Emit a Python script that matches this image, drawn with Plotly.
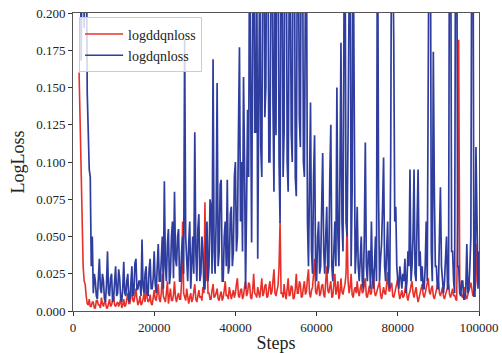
import plotly.graph_objects as go

steps = list(range(1500, 100001, 250))

logddqnloss = [
    0.16,0.12,0.083,0.05,0.03,0.02,0.018,0.01,0.005,0.004,0.008,0.003,0.003,0.006,0.006,0.002,0.002,0.007,0.007,0.004,
    0.004,0.002,0.009,0.005,0.003,0.006,0.006,0.002,0.002,0.005,0.008,0.003,0.004,0.007,0.01,0.004,0.003,0.005,0.006,0.003,
    0.005,0.008,0.002,0.004,0.008,0.003,0.004,0.01,0.012,0.005,0.005,0.009,0.02,0.007,0.006,0.01,0.015,0.008,0.004,0.006,
    0.01,0.004,0.005,0.008,0.012,0.006,0.02,0.009,0.006,0.007,0.011,0.005,0.004,0.009,0.014,0.008,0.007,0.012,0.018,0.008,
    0.006,0.012,0.025,0.01,0.008,0.006,0.012,0.02,0.005,0.009,0.015,0.007,0.007,0.011,0.02,0.009,0.006,0.01,0.012,0.008,
    0.008,0.02,0.06,0.012,0.01,0.007,0.015,0.01,0.005,0.009,0.012,0.006,0.008,0.013,0.018,0.008,0.006,0.01,0.014,0.009,
    0.01,0.007,0.016,0.012,0.073,0.02,0.045,0.012,0.012,0.008,0.008,0.014,0.018,0.009,0.01,0.012,0.015,0.008,0.007,0.011,
    0.013,0.007,0.009,0.014,0.02,0.01,0.011,0.008,0.016,0.012,0.008,0.011,0.014,0.009,0.012,0.018,0.022,0.01,0.009,0.014,
    0.015,0.008,0.01,0.016,0.02,0.01,0.012,0.019,0.018,0.009,0.008,0.014,0.025,0.012,0.011,0.009,0.016,0.012,0.009,0.015,
    0.022,0.01,0.012,0.017,0.018,0.009,0.01,0.016,0.02,0.011,0.013,0.02,0.028,0.012,0.01,0.014,0.017,0.03,0.06,0.012,
    0.012,0.009,0.018,0.011,0.008,0.015,0.022,0.01,0.011,0.017,0.016,0.008,0.009,0.015,0.025,0.012,0.012,0.02,0.018,0.009,
    0.01,0.016,0.02,0.011,0.013,0.022,0.028,0.012,0.009,0.014,0.016,0.025,0.035,0.013,0.011,0.016,0.02,0.01,0.012,0.017,
    0.018,0.011,0.009,0.02,0.03,0.014,0.012,0.016,0.02,0.009,0.01,0.018,0.025,0.011,0.014,0.02,0.008,0.012,0.022,0.013,
    0.011,0.015,0.018,0.025,0.06,0.02,0.012,0.016,0.025,0.011,0.009,0.014,0.016,0.012,0.02,0.013,0.01,0.015,0.018,0.012,
    0.013,0.018,0.022,0.01,0.009,0.013,0.017,0.011,0.012,0.02,0.028,0.013,0.01,0.012,0.015,0.019,0.02,0.011,0.008,0.012,
    0.016,0.012,0.011,0.018,0.026,0.014,0.013,0.017,0.019,0.01,0.009,0.012,0.015,0.018,0.022,0.012,0.008,0.011,0.014,0.009,
    0.01,0.014,0.018,0.01,0.007,0.011,0.013,0.017,0.02,0.012,0.009,0.013,0.016,0.01,0.006,0.009,0.012,0.015,0.018,0.011,
    0.009,0.012,0.015,0.019,0.022,0.013,0.011,0.015,0.017,0.01,0.008,0.011,0.014,0.018,0.02,0.012,0.01,0.013,0.016,0.01,
    0.008,0.011,0.013,0.016,0.018,0.011,0.009,0.012,0.015,0.01,0.011,0.008,0.007,0.06,0.182,0.02,0.012,0.01,0.009,0.013,
    0.016,0.01,0.008,0.011,0.013,0.016,0.019,0.012,0.01,0.012,0.014,0.02,0.045,0.025,0.02,
]

logdqnloss = [
    0.26,0.3,0.168,0.25,0.32,0.19,0.25,0.3,0.147,0.12,0.095,0.09,0.03,0.05,0.012,0.025,0.02,0.01,0.008,0.022,
    0.035,0.015,0.012,0.025,0.02,0.008,0.006,0.018,0.04,0.012,0.01,0.022,0.025,0.006,0.008,0.02,0.03,0.01,0.012,0.028,
    0.022,0.008,0.006,0.015,0.033,0.012,0.01,0.02,0.025,0.006,0.008,0.018,0.03,0.01,0.012,0.032,0.035,0.014,0.015,0.02,
    0.02,0.01,0.048,0.016,0.012,0.025,0.03,0.012,0.01,0.028,0.035,0.015,0.015,0.022,0.04,0.018,0.012,0.03,0.045,0.02,
    0.02,0.035,0.05,0.015,0.087,0.03,0.02,0.045,0.055,0.018,0.025,0.05,0.06,0.022,0.08,0.035,0.03,0.05,0.055,0.02,
    0.02,0.04,0.05,0.025,0.182,0.05,0.03,0.02,0.045,0.06,0.015,0.035,0.05,0.025,0.12,0.04,0.02,0.055,0.065,0.02,
    0.025,0.05,0.04,0.015,0.015,0.045,0.06,0.02,0.03,0.075,0.07,0.025,0.169,0.04,0.025,0.06,0.153,0.03,0.04,0.085,
    0.088,0.02,0.02,0.05,0.06,0.03,0.088,0.025,0.03,0.065,0.07,0.03,0.04,0.09,0.1,0.04,0.05,0.12,0.177,0.06,
    0.1,0.04,0.157,0.1,0.015,0.07,0.135,0.09,0.26,0.15,0.046,0.2,0.3,0.12,0.12,0.25,0.035,0.14,0.24,0.11,
    0.09,0.25,0.28,0.13,0.15,0.3,0.25,0.1,0.1,0.22,0.3,0.14,0.08,0.26,0.118,0.3,0.28,0.1,0.059,0.25,
    0.27,0.09,0.12,0.3,0.3,0.1,0.08,0.22,0.24,0.12,0.1,0.3,0.3,0.09,0.077,0.25,0.26,0.13,0.11,0.3,
    0.3,0.1,0.09,0.22,0.25,0.06,0.03,0.08,0.14,0.04,0.025,0.09,0.118,0.03,0.02,0.05,0.06,0.025,0.03,0.07,
    0.106,0.04,0.025,0.05,0.07,0.025,0.03,0.09,0.125,0.03,0.02,0.04,0.06,0.03,0.15,0.05,0.03,0.09,0.18,0.06,
    0.04,0.2,0.26,0.06,0.05,0.12,0.189,0.3,0.03,0.08,0.27,0.1,0.025,0.04,0.07,0.03,0.02,0.035,0.05,0.02,
    0.015,0.05,0.113,0.03,0.02,0.04,0.04,0.015,0.06,0.025,0.015,0.03,0.05,0.02,0.3,0.08,0.02,0.035,0.045,0.07,
    0.103,0.03,0.02,0.04,0.06,0.02,0.015,0.1,0.3,0.25,0.182,0.06,0.07,0.03,0.02,0.015,0.03,0.02,0.015,0.025,
    0.02,0.035,0.012,0.02,0.04,0.03,0.095,0.02,0.03,0.05,0.095,0.025,0.02,0.06,0.095,0.03,0.04,0.02,0.03,0.015,
    0.015,0.03,0.06,0.02,0.132,0.3,0.3,0.04,0.02,0.174,0.08,0.03,0.03,0.015,0.015,0.04,0.083,0.03,0.02,0.012,
    0.02,0.035,0.05,0.015,0.015,0.3,0.3,0.04,0.04,0.02,0.012,0.3,0.3,0.03,0.03,0.012,0.01,0.02,0.02,0.008,
    0.008,0.015,0.045,0.012,0.015,0.03,0.05,0.3,0.3,0.01,0.01,0.11,0.04,0.015,0.04,
]

x_ticks = [0, 20000, 40000, 60000, 80000, 100000]
y_ticks = [0.0, 0.025, 0.05, 0.075, 0.1, 0.125, 0.15, 0.175, 0.2]

FONT = "Liberation Serif"

fig = go.Figure()
fig.add_trace(go.Scatter(x=steps, y=logddqnloss, mode="lines", name="logddqnloss",
                         line=dict(color="#E8302A", width=1.6)))
fig.add_trace(go.Scatter(x=steps, y=logdqnloss, mode="lines", name="logdqnloss",
                         line=dict(color="#2E3D9E", width=1.7)))

axis_common = dict(showgrid=False, zeroline=False, showline=True, mirror=True,
                   linecolor="#555", linewidth=1, ticks="outside", ticklen=4,
                   tickcolor="#333", automargin=False, ticklabeloverflow="allow",
                   tickfont=dict(family=FONT, size=13, color="#222"))

fig.update_layout(
    width=502, height=353,
    margin=dict(l=73, r=23, t=13, b=42),
    plot_bgcolor="white", paper_bgcolor="white",
    font=dict(family=FONT, color="#222"),
    showlegend=True,
    legend=dict(x=0.015, y=0.985, xanchor="left", yanchor="top",
                bgcolor="rgba(255,255,255,0.8)", bordercolor="#ccc", borderwidth=1,
                itemwidth=38,
                font=dict(family=FONT, size=14, color="#222"), tracegroupgap=0),
    xaxis=dict(range=[0, 100000], tickvals=x_ticks, ticktext=[str(v) for v in x_ticks],
               title=dict(text="Steps", font=dict(family=FONT, size=18), standoff=2),
               **axis_common),
    yaxis=dict(range=[0, 0.2], tickvals=y_ticks, tickformat=".3f",
               title=dict(text="LogLoss", font=dict(family=FONT, size=18), standoff=6),
               **axis_common),
)

fig.write_html("out.html", config={"displayModeBar": False},
               post_script="document.body.style.margin='0';document.body.style.overflow='hidden';")
